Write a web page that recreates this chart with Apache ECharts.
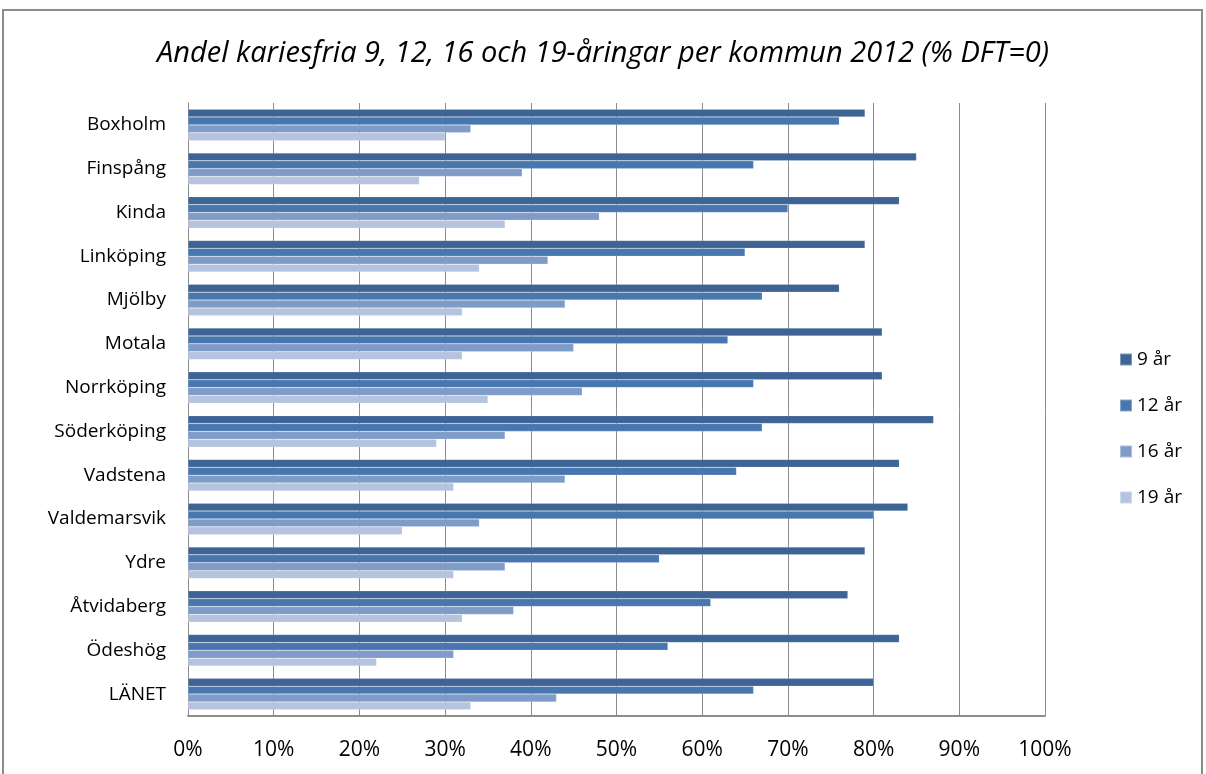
<!DOCTYPE html>
<html>
<head>
<meta charset="utf-8">
<script src="https://cdn.jsdelivr.net/npm/echarts@6/dist/echarts.min.js"></script>
<style>html,body{margin:0;padding:0;background:#fff}#c{width:1206px;height:774px}</style>
</head>
<body>
<div id="c"></div>
<script>
const categories = ["Boxholm","Finspång","Kinda","Linköping","Mjölby","Motala","Norrköping","Söderköping","Vadstena","Valdemarsvik","Ydre","Åtvidaberg","Ödeshög","LÄNET"];
const seriesNames = ["9 år","12 år","16 år","19 år"];
const v9  = [79,85,83,79,76,81,81,87,83,84,79,77,83,80];
const v12 = [76,66,70,65,67,63,66,67,64,80,55,61,56,66];
const v16 = [33,39,48,42,44,45,46,37,44,34,37,38,31,43];
const v19 = [30,27,37,34,32,32,35,29,31,25,31,32,22,33];
const xTicks = [0,10,20,30,40,50,60,70,80,90,100];
const colors = ["#3D6495","#4877B0","#7F9CC9","#B5C3DF"];
const data = [v9, v12, v16, v19];

const chart = echarts.init(document.getElementById('c'), null, {renderer:'canvas'});
const font = "'Open Sans', sans-serif";
chart.setOption({
  animation:false,
  title:{text:"Andel kariesfria 9, 12, 16 och 19-åringar per kommun 2012 (% DFT=0)", left:'center', top:34,
    textStyle:{fontFamily:font, fontStyle:'italic', fontWeight:'normal', fontSize:29, color:'#000'}},
  graphic:[{type:'rect', shape:{x:3,y:10,width:1199,height:790}, style:{fill:'none', stroke:'#8c8c8c', lineWidth:2}, silent:true}],
  legend:{orient:'vertical', left:1114, top:345, itemWidth:12, itemHeight:12, itemGap:27,
    icon:'rect', textStyle:{fontFamily:font, fontSize:19, color:'#000'}, data:seriesNames},
  grid:{left:188, right:161, top:103, bottom:58, containLabel:false},
  xAxis:{type:'value', min:0, max:100, interval:10,
    axisLabel:{formatter: v => xTicks.includes(v) ? v + '%' : '', fontFamily:font, fontSize:21, color:'#000', margin:24},
    axisLine:{show:true, lineStyle:{color:'#8c8c8c', width:2}},
    axisTick:{show:false},
    splitLine:{show:true, lineStyle:{color:'#8c8c8c', width:1}}},
  yAxis:{type:'category', data:categories, inverse:true,
    axisLabel:{fontFamily:font, fontSize:19, color:'#000', margin:22},
    axisLine:{show:true, lineStyle:{color:'#8c8c8c', width:1}},
    axisTick:{show:false}},
  series: seriesNames.map((n,i)=>({name:n, type:'bar', data:data[i], barGap:'0%', barCategoryGap:'28%',
    itemStyle:{color:colors[i], borderColor:'rgba(255,255,255,0.35)', borderWidth:0.5}}))
});
</script>
</body>
</html>
